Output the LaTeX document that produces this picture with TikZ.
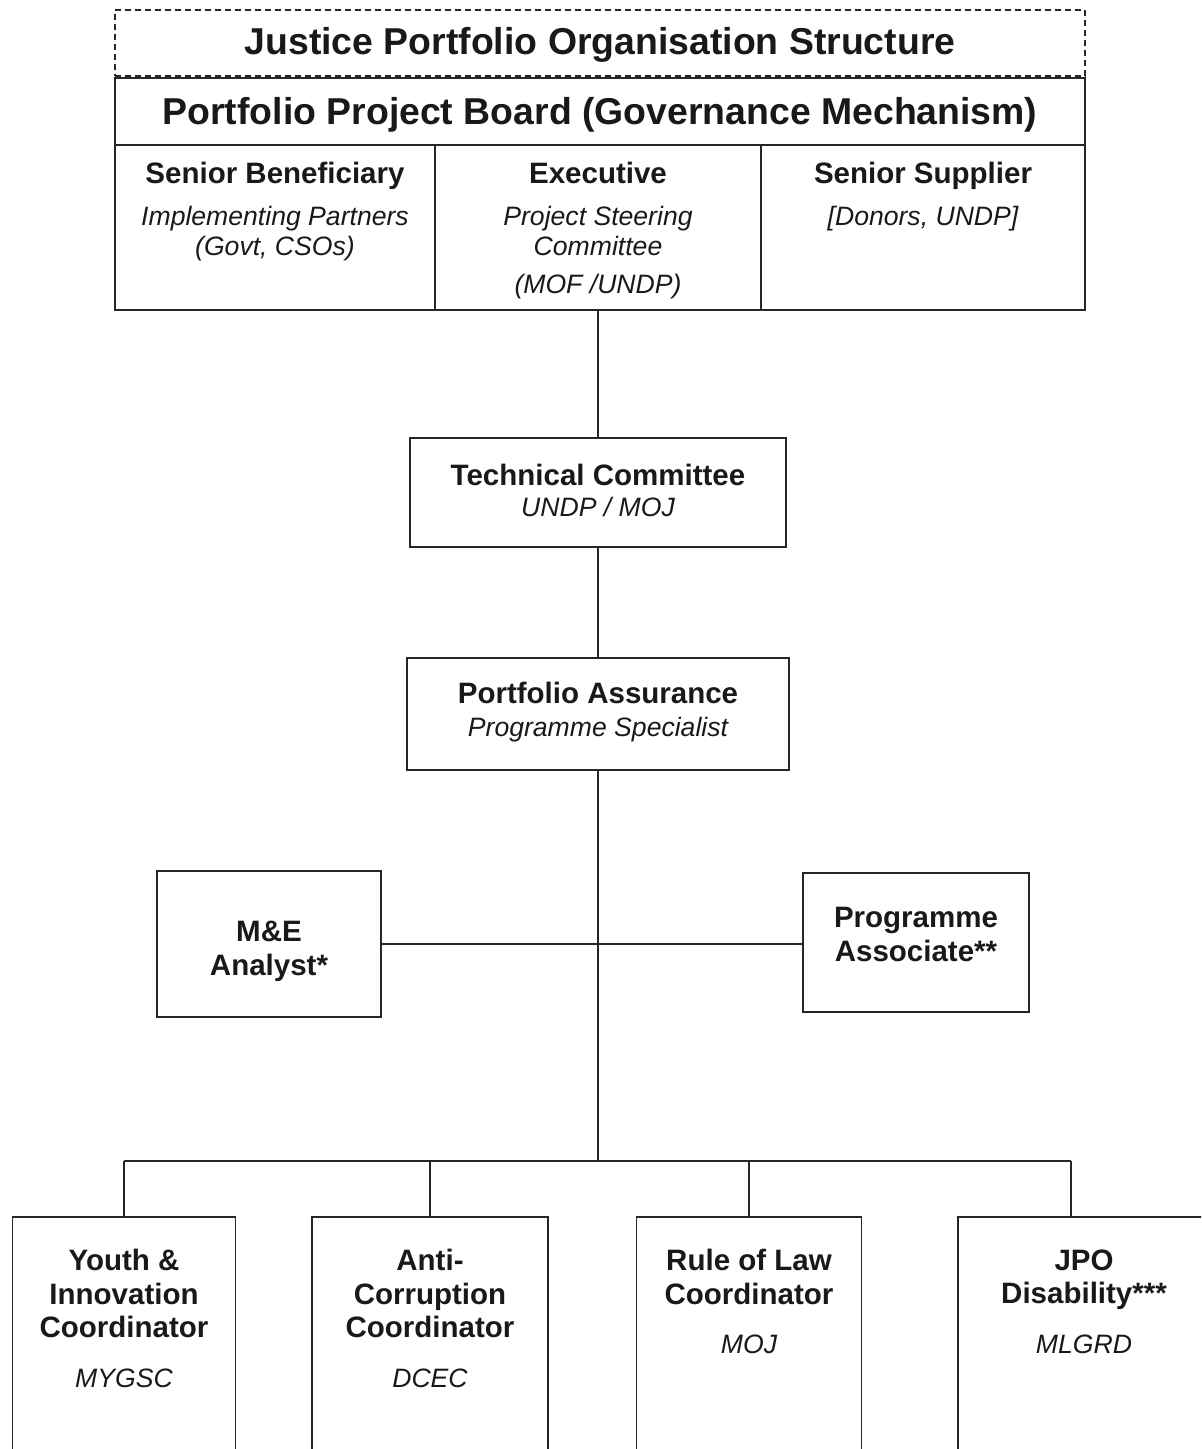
\documentclass[tikz,border=0pt]{standalone}
\usepackage{fontspec}
\setmainfont{Liberation Sans}
\usepackage{tikz}
\usetikzlibrary{positioning, calc}
\tikzset{
  box/.style={draw=black!85, line width=0.8pt, inner sep=0pt},
  boxtext/.style={align=center, inner sep=0pt, text=black!90,
    font=\fontsize{14.75}{16.7}\selectfont\bfseries},
  bigtext/.style={font=\fontsize{18.7}{22}\selectfont\bfseries, text=black!90},
  link/.style={draw=black!85, line width=0.6pt},
}
\newcommand{\roletxt}[1]{{\fontsize{13.3}{16}\selectfont\mdseries\itshape #1}}

\begin{document}
\begin{tikzpicture}[x=0.5pt, y=-0.5pt]
  \clip (0,0) rectangle (1201,1449);
  % heading and board
  \node[box, bigtext, dash pattern=on 3pt off 2pt, minimum width=485pt, minimum height=33pt] (title) at (600,43) {};
  \node[bigtext] (title-t) at ([yshift=-1pt]title.center) {Justice Portfolio Organisation Structure};
  \node[box, minimum width=485pt, minimum height=33.5pt] (board) at (600,111.5) {};
  \node[bigtext] (board-t) at ([yshift=-1.5pt]board.center) {Portfolio Project Board (Governance Mechanism)};

  \node[box, minimum width=160pt, minimum height=82.5pt] (sb) at (275,227.5) {};
  \node[box, minimum width=163pt, minimum height=82.5pt] (exec) at (598,227.5) {};
  \node[box, minimum width=162pt, minimum height=82.5pt] (ss) at (923,227.5) {};
  \node[boxtext, anchor=north] (sb-t) at ([yshift=-9pt]sb.north) {Senior Beneficiary\\[4.3pt]\roletxt{Implementing Partners}\\[-1.7pt]\roletxt{(Govt, CSOs)}};
  \node[boxtext, anchor=north] (exec-t) at ([yshift=-9pt]exec.north) {Executive\\[4.3pt]\roletxt{Project Steering}\\[-1.7pt]\roletxt{Committee}\\[2.3pt]\roletxt{(MOF /UNDP)}};
  \node[boxtext, anchor=north] (ss-t) at ([yshift=-9pt]ss.north) {Senior Supplier\\[4.3pt]\roletxt{[Donors, UNDP]}};

  % middle chain
  \node[box, boxtext, minimum width=188pt, minimum height=54.5pt] (tc) at (598,492.5) {};
  \node[boxtext] (tc-t) at ([yshift=1pt]tc.center) {Technical Committee\\[-1pt]\roletxt{UNDP / MOJ}};
  \node[box, minimum width=191pt, minimum height=56pt] (pa) at (598,714) {};
  \node[boxtext] (pa-t) at ([yshift=1pt]pa.center) {Portfolio Assurance\\[-0.2pt]\roletxt{Programme Specialist}};
  \node[box, minimum width=112pt, minimum height=73pt] (me) at (269,944) {};
  \node[boxtext] (me-t) at ([yshift=-3.5pt]me.center) {M\&E\\[0.3pt]Analyst*};
  \node[box, minimum width=113pt, minimum height=69.5pt] (assoc) at (916,942.5) {};
  \node[boxtext] (assoc-t) at ([yshift=4pt]assoc.center) {Programme\\Associate**};

  % coordinators
  \node[box, minimum width=111.5pt, minimum height=121.5pt] (yic) at (124,1338.5) {};
  \node[box, minimum width=118pt, minimum height=121.5pt] (acc) at (430,1338.5) {};
  \node[box, minimum width=112.5pt, minimum height=121.5pt] (rlc) at (749,1338.5) {};
  \node[box, minimum width=126pt, minimum height=121.5pt] (jpo) at (1084,1338.5) {};
  \node[boxtext, anchor=north] (yic-t) at ([yshift=-16.5pt]yic.north) {Youth \&\\Innovation\\Coordinator\\[8.3pt]\roletxt{MYGSC}};
  \node[boxtext, anchor=north] (acc-t) at ([yshift=-16.5pt]acc.north) {Anti-\\Corruption\\Coordinator\\[8.3pt]\roletxt{DCEC}};
  \node[boxtext, anchor=north] (rlc-t) at ([yshift=-16.5pt]rlc.north) {Rule of Law\\Coordinator\\[8pt]\roletxt{MOJ}};
  \node[boxtext, anchor=north] (jpo-t) at ([yshift=-16.5pt]jpo.north) {JPO\\Disability***\\[8pt]\roletxt{MLGRD}};

  % connectors
  \coordinate (hub) at (598,1161);
  \coordinate (bus-l) at (124,1161);
  \coordinate (bus-r) at (1071,1161);
  \draw[link] (exec.south) -- (exec.south |- tc.north);
  \draw[link] (tc.south) -- (tc.south |- pa.north);
  \draw[link] (pa.south) -- (pa.south |- hub);
  \draw[link] (me.east) -- (me.east -| assoc.west);
  \draw[link] (bus-l) -- (bus-r);
  \foreach \b in {yic, acc, rlc}
    \draw[link] (\b.north |- hub) -- (\b.north);
  \draw[link] (bus-r) -- (bus-r |- jpo.north);
\end{tikzpicture}
\end{document}
